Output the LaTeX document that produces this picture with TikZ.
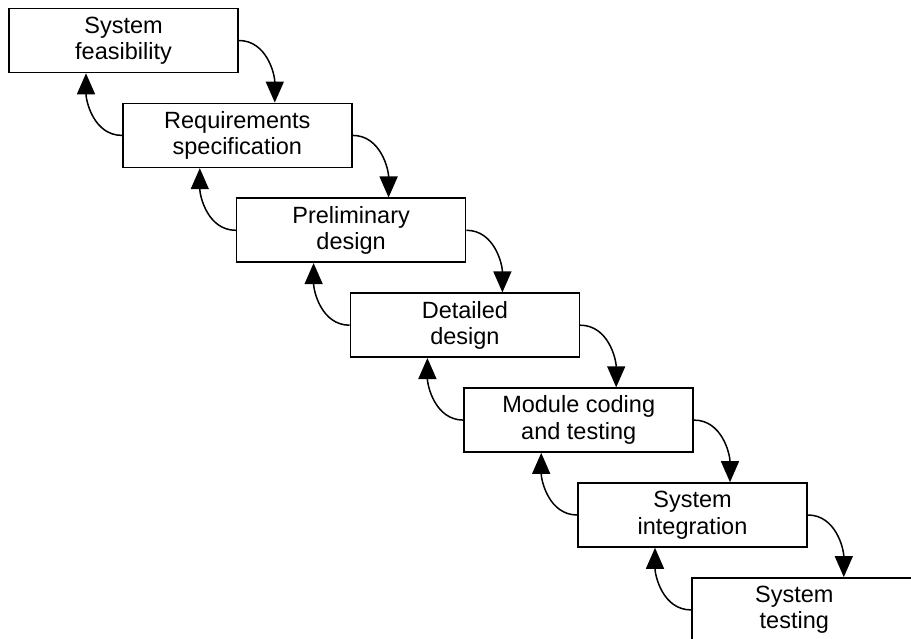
\documentclass[tikz,border=0pt]{standalone}
\usepackage{fontspec}
\setmainfont{Liberation Sans}
\usetikzlibrary{arrows.meta,calc}

\tikzset{
  phase/.style={draw=black, line width=1.6pt, fill=white, rectangle,
    minimum width=229pt, minimum height=64pt, inner sep=0pt,
    align=center, font=\fontsize{23.5}{26.5}\selectfont},
  phasetext/.style={align=center, inner sep=0pt, font=\fontsize{23.5}{26.5}\selectfont},
  flow/.style={line width=1.5pt, -{Triangle[length=21pt,width=18pt]}},
}

\begin{document}
\begin{tikzpicture}[x=1pt,y=-1pt]
  \useasboundingbox (0,0) rectangle (911,639);
  \clip (0,0) rectangle (911,639);

  % waterfall phases
  \node[phase] (sf) at (123.5, 40.5) {System\\feasibility};
  \node[phase] (rs) at (237.3,135.4) {Requirements\\specification};
  \node[phase] (pd) at (351.1,230.3) {Preliminary\\design};
  \node[phase] (dd) at (464.9,325.2) {Detailed\\design};
  \node[phase] (mc) at (578.7,420.1) {Module coding\\and testing};
  \node[phase] (si) at (692.5,515.0) {System\\integration};
  \node[phase] (st) at (806.3,609.9) {};
  \node[phasetext] (stt) at ($(st.center)+(-12,0)$) {System\\testing};

  % forward flow: from each phase down to the next
  \foreach \a/\b in {sf/rs, rs/pd, pd/dd, dd/mc, mc/si, si/st}{
    \draw[flow] (\a.east) to[out=0,in=90] ($(\b.north)+(37.5,0)$);
  }
  % feedback: from each phase back up to the previous one
  \foreach \a/\b in {sf/rs, rs/pd, pd/dd, dd/mc, mc/si, si/st}{
    \draw[flow] (\b.west) to[out=180,in=-90] ($(\a.south)+(-37.5,0)$);
  }
\end{tikzpicture}
\end{document}
